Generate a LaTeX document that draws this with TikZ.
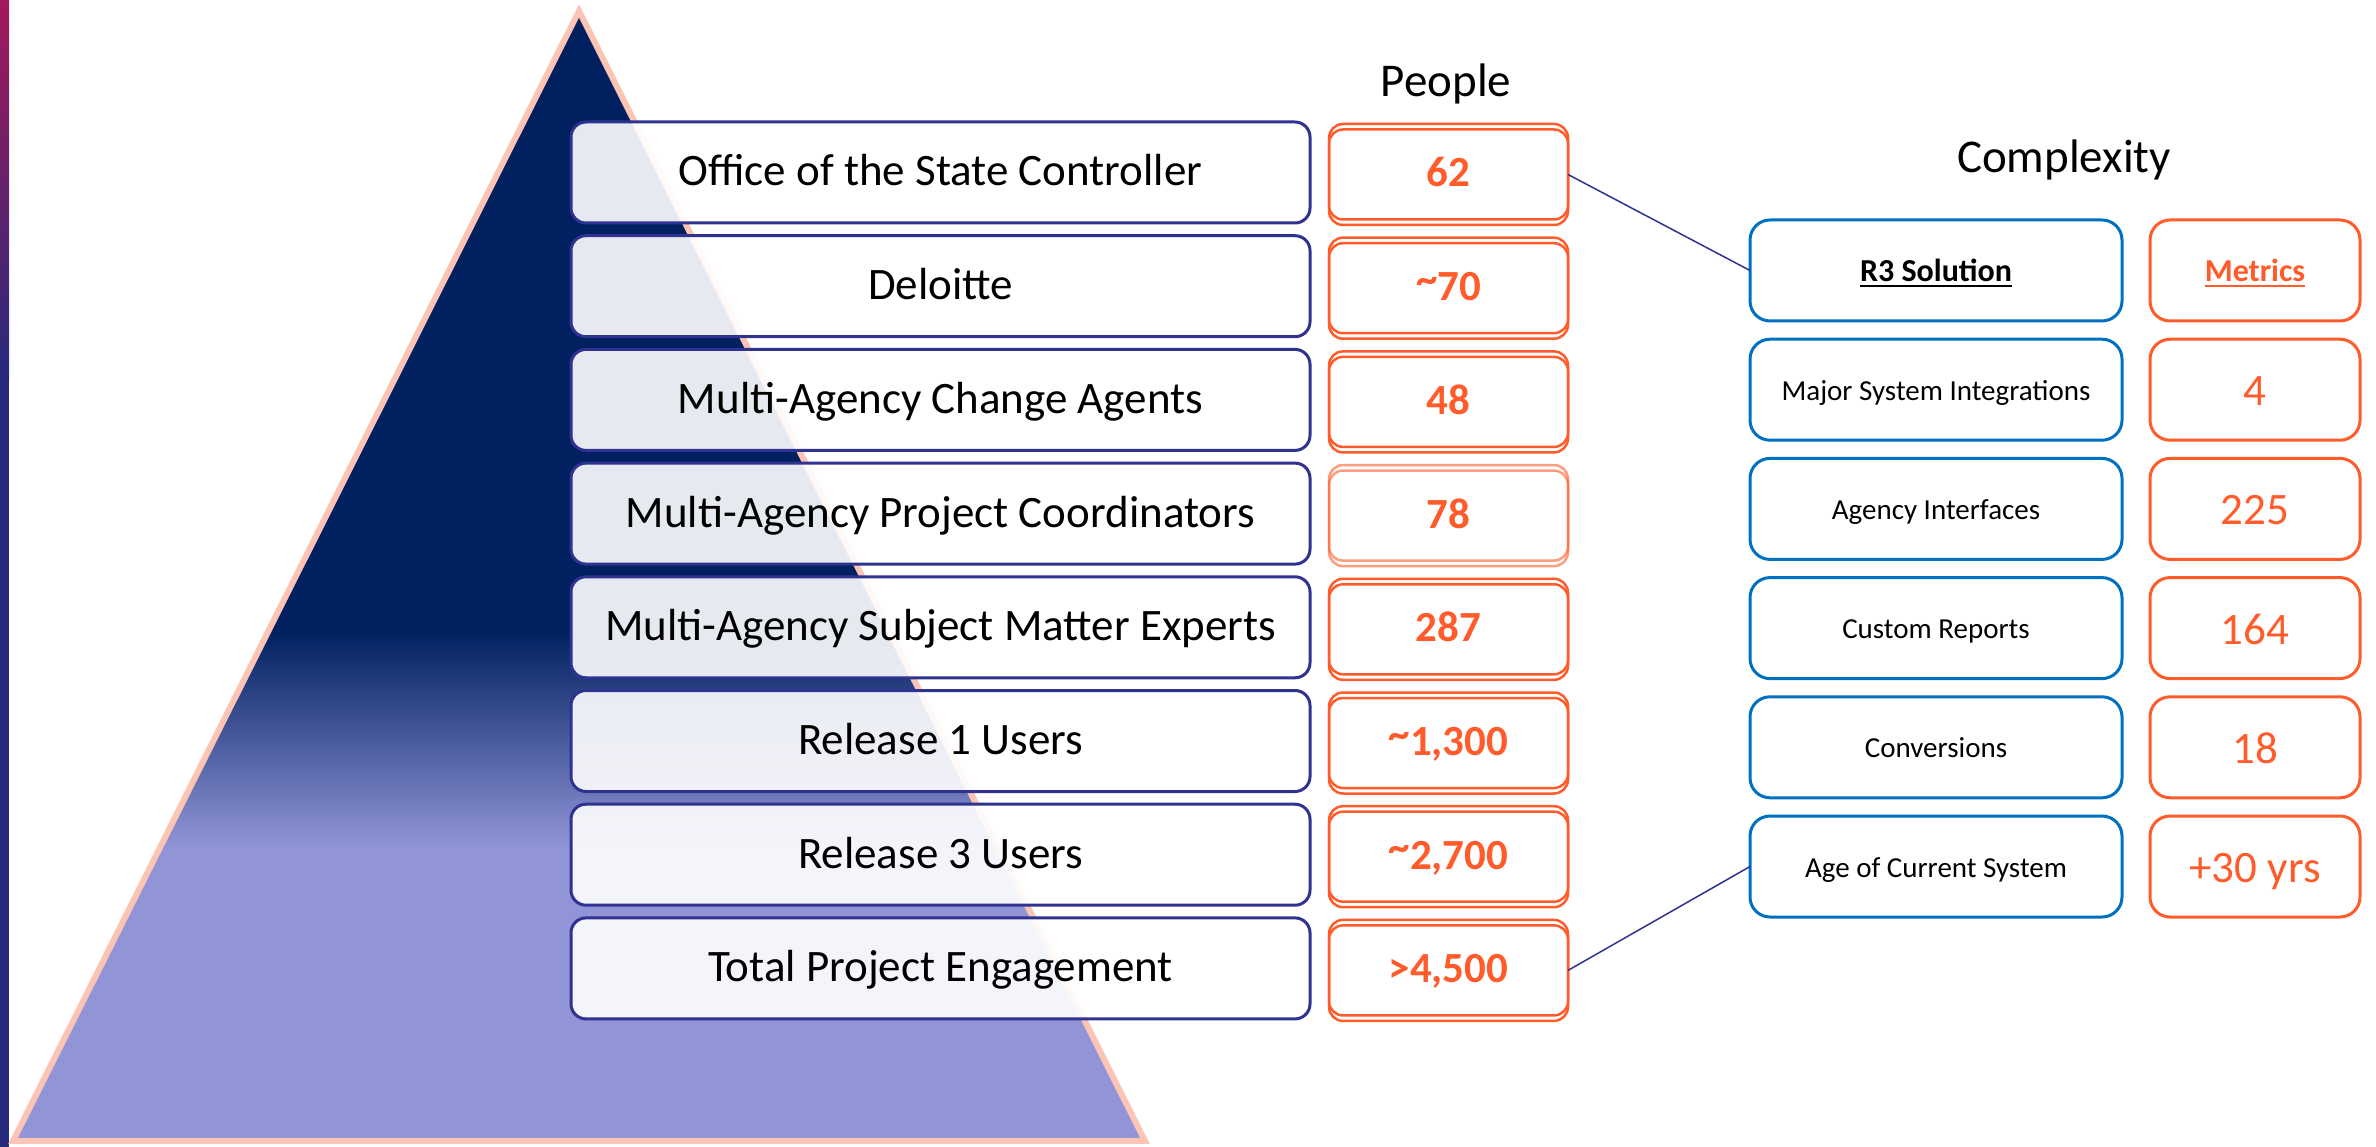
\documentclass[tikz,border=0pt]{standalone}
\usepackage{fontspec}
\setmainfont{Carlito}
\usetikzlibrary{calc}
\definecolor{navy}{RGB}{0,32,96}
\definecolor{lav}{RGB}{145,149,216}
\definecolor{peach}{RGB}{251,196,180}
\definecolor{boxblue}{RGB}{47,50,145}
\definecolor{orng}{RGB}{255,91,43}
\definecolor{cblue}{RGB}{0,112,192}
\definecolor{crim}{RGB}{163,25,91}
\definecolor{barblue}{RGB}{38,42,124}
\newcommand{\myul}[1]{\setbox0=\hbox{#1}\rlap{\rule[-6pt]{\wd0}{2.5pt}}\box0}
\newcommand{\uptilde}{\raisebox{0.17em}{\textasciitilde}}
\begin{document}
\begin{tikzpicture}[x=1pt,y=-1pt,
  leftbox/.style={draw=boxblue, line width=3pt, rounded corners=15pt, fill=white, fill opacity=0.9, text opacity=1,
    minimum width=739pt, minimum height=101pt, inner sep=0pt, outer sep=0pt,
    font=\fontsize{45}{50}\selectfont, text height=33pt, text depth=6pt},
  pnum/.style={minimum width=239pt, minimum height=101pt, inner sep=0pt, outer sep=0pt, text=orng,
    font=\fontsize{43}{48}\selectfont\bfseries, text height=30pt, text depth=5pt},
  obox/.style={draw=orng, line width=2.5pt, rounded corners=14pt},
  cbox/.style={draw=cblue, line width=3pt, rounded corners=20pt, minimum width=372pt, minimum height=101pt,
    inner sep=0pt, outer sep=0pt, font=\fontsize{29}{34}\selectfont, text height=24pt, text depth=3pt},
  mbox/.style={draw=orng, line width=3pt, rounded corners=20pt, minimum width=210pt, minimum height=101pt,
    inner sep=0pt, outer sep=0pt, text=orng, font=\fontsize{45}{50}\selectfont, text height=34pt, text depth=2pt},
  hdr/.style={font=\fontsize{32}{36}\selectfont\bfseries, text height=25pt, text depth=3pt},
  ttl/.style={anchor=base, font=\fontsize{47}{54}\selectfont, inner sep=0pt},
  conn/.style={draw=boxblue, line width=1.5pt}
]
\useasboundingbox (0,0) rectangle (2376,1147);
% left bar
\shade[top color=crim, bottom color=barblue] (0,0) rectangle (9,380);
\fill[barblue] (0,379) rectangle (9,1147);
% triangle
\begin{scope}
  \clip (579,11) -- (1145,1141) -- (13,1141) -- cycle;
  \fill[navy] (0,0) rectangle (1200,631);
  \shade[top color=navy, bottom color=lav] (0,630) rectangle (1200,848);
  \fill[lav] (0,847) rectangle (1200,1147);
\end{scope}
\draw[peach, line width=6pt, line join=miter] (579,11) -- (1145,1141) -- (13,1141) -- cycle;
% titles
\node[ttl] (tp) at (1446,97) {People};
\node[ttl] (tc) at (2064,173) {Complexity};
% people rows
\foreach \i/\t/\n/\op in {1/Office of the State Controller/62/1,
  2/Deloitte/\uptilde70/1,
  3/Multi-Agency Change Agents/48/1,
  4/Multi-Agency Project Coordinators/78/0.6,
  5/Multi-Agency Subject Matter Experts/287/1,
  6/Release 1 Users/{\uptilde1,300}/1,
  7/Release 3 Users/{\uptilde2,700}/1,
  8/Total Project Engagement/{>4,500}/1}{
  \pgfmathsetmacro\yl{172.5+(\i-1)*113.7}
  \pgfmathsetmacro\yp{174.5+(\i-1)*113.7}
  \node[leftbox] (l\i) at (940.5,\yl) {\t};
  \node[pnum] (p\i) at (1448.5,\yp) {\n};
  \draw[obox, draw opacity=\op] (p\i.north west) rectangle ([yshift=5.5pt]p\i.south east);
  \draw[obox, draw opacity=\op] ([yshift=-5.5pt]p\i.north west) rectangle (p\i.south east);
}
% complexity rows
\node[cbox, hdr] (c1) at (1936,270.5) {\myul{R3 Solution}};
\node[mbox, hdr, text=orng] (m1) at (2255,270.5) {\myul{Metrics}};
\foreach \j/\a/\b in {2/Major System Integrations/4,
  3/Agency Interfaces/225,
  4/Custom Reports/164,
  5/Conversions/18,
  6/Age of Current System/+30 yrs}{
  \pgfmathsetmacro\yc{270.5+(\j-1)*119.2}
  \node[cbox] (c\j) at (1936,\yc) {\a};
  \node[mbox] (m\j) at (2255,\yc) {\b};
}
% connectors
\draw[conn] (p1.east) -- (c1.west);
\draw[conn] (p8.east) -- (c6.west);
\end{tikzpicture}
\end{document}
